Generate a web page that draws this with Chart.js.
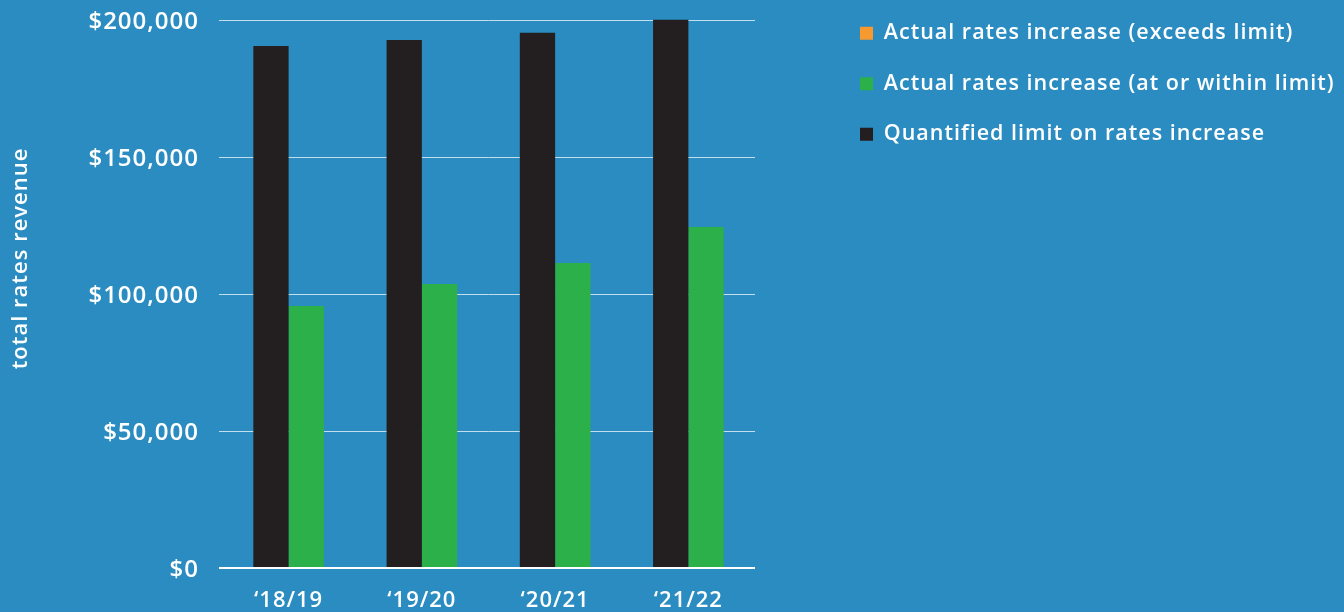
<!DOCTYPE html>
<html><head><meta charset="utf-8">
<script src="https://cdn.jsdelivr.net/npm/chart.js@4/dist/chart.umd.min.js"></script>
<style>html,body{margin:0;padding:0;background:#2a8cc1;overflow:hidden}#wrap{width:1344px;height:612px;position:relative}</style>
</head><body><div id="wrap"><canvas id="c" width="1344" height="612"></canvas></div>
<script>
const categories = ['\u201818/19', '\u201819/20', '\u201820/21', '\u201821/22'];
const limitValues = [190700, 192900, 195500, 200300];
const withinValues = [95700, 103700, 111400, 124600];
const exceedsValues = [0, 0, 0, 0];
const yTickValues = [0, 50000, 100000, 150000, 200000];
const seriesNames = ['Quantified limit on rates increase', 'Actual rates increase (at or within limit)', 'Actual rates increase (exceeds limit)'];
const axisTitle = 'total rates revenue';

const FONT = "'Open Sans', 'Noto Sans', sans-serif";
Chart.defaults.font.family = FONT;
Chart.defaults.font.weight = '600';
Chart.defaults.color = '#ffffff';

const spacing = {
  id: 'spacing',
  beforeInit(chart) { chart.ctx.letterSpacing = '1px'; },
  beforeUpdate(chart) { chart.ctx.letterSpacing = '1px'; },
  beforeLayout(chart) { chart.ctx.letterSpacing = '1px'; },
  beforeDraw(chart) { chart.ctx.letterSpacing = '1px'; }
};

const yTitlePlugin = {
  id: 'yTitle',
  afterDraw(chart) {
    const ctx = chart.ctx;
    ctx.save();
    ctx.translate(21, 258.5);
    ctx.rotate(-Math.PI / 2);
    ctx.font = "600 22px " + FONT;
    ctx.fillStyle = '#ffffff';
    ctx.textAlign = 'center';
    ctx.textBaseline = 'middle';
    ctx.fillText(axisTitle, 0, 0);
    ctx.restore();
  }
};

const legendPlace = {
  id: 'legendPlace',
  afterLayout(chart) {
    const lg = chart.legend;
    if (!lg) return;
    const w = lg.width;
    lg.left = 831; lg.right = 831 + w;
    lg.top = -6.5; lg.bottom = 600;
  }
};

new Chart(document.getElementById('c'), {
  type: 'bar',
  data: {
    labels: categories,
    datasets: [
      { label: seriesNames[0], data: limitValues, backgroundColor: '#231f20', borderWidth: 0, stack: 'limit', clip: false },
      { label: seriesNames[1], data: withinValues, backgroundColor: '#2bb04a', borderWidth: 0, stack: 'actual' },
      { label: seriesNames[2], data: exceedsValues, backgroundColor: '#f7992f', borderWidth: 0, stack: 'actual' }
    ]
  },
  options: {
    responsive: false,
    animation: false,
    layout: { padding: { top: 20.5, right: 589, left: 0, bottom: 0 } },
    datasets: { bar: { categoryPercentage: 0.53, barPercentage: 1.0 } },
    scales: {
      x: {
        grid: { display: false },
        border: { display: false },
        ticks: { padding: 12, font: { size: 22, weight: '600' }, color: '#ffffff' },
        afterFit(scale) { scale.height = 44; }
      },
      y: {
        min: 0, max: 200000,
        afterBuildTicks(scale) { scale.ticks = yTickValues.map(v => ({ value: v })); },
        border: { display: false },
        grid: {
          drawTicks: true, tickLength: 3,
          color: ctx => ctx.tick && ctx.tick.value === 0 ? '#ffffff' : 'rgba(255,255,255,0.72)',
          lineWidth: ctx => ctx.tick && ctx.tick.value === 0 ? 2 : 1
        },
        ticks: {
          padding: 20, labelOffset: 2, font: { size: 24, weight: '600' }, color: '#ffffff',
          callback: v => '$' + Number(v).toLocaleString('en-US')
        },
        afterFit(scale) { scale.width = 222; scale.paddingTop = 0; scale.paddingBottom = 0; }
      }
    },
    plugins: {
      legend: {
        position: 'chartArea', align: 'start',
        labels: {
          boxWidth: 13, boxHeight: 13, padding: 29, color: '#ffffff',
          font: { size: 21.5, weight: '600' },
          sort: (a, b) => b.datasetIndex - a.datasetIndex
        }
      },
      tooltip: { enabled: false },
      title: { display: false }
    }
  },
  plugins: [spacing, yTitlePlugin, legendPlace]
});
</script>
</body></html>
